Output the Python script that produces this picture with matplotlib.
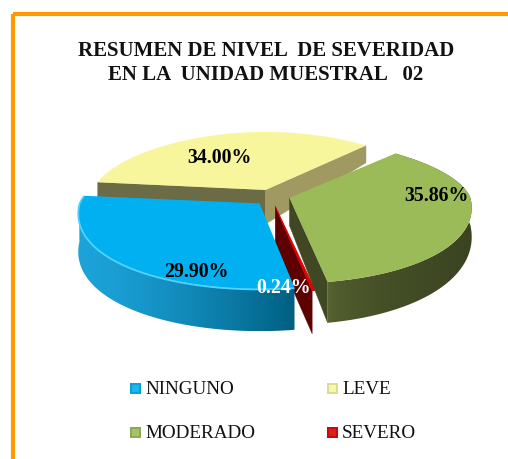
#!/usr/bin/env python3
"""3D-looking exploded pie: nivel de severidad, unidad muestral 02."""

import numpy as np
import matplotlib

matplotlib.use("Agg")
import matplotlib.pyplot as plt
from matplotlib.colors import to_rgb
from matplotlib.patches import Polygon, Rectangle

TITLE_LINES = ["RESUMEN DE NIVEL  DE SEVERIDAD", "EN LA  UNIDAD MUESTRAL   02"]
CATEGORIES = ["NINGUNO", "LEVE", "MODERADO", "SEVERO"]
VALUES = [29.90, 34.00, 35.86, 0.24]

TOP_COLORS = ["#00B0F0", "#F8F69C", "#9BBB59", "#E00000"]
RADII = [180, 172, 181, 190]
# wall depth per slice: (base, growth per pixel of screen y below y=145)
DEPTHS = [(35, 0.05), (17, 0.38), (19, 0.16), (43, 0.0)]
LABEL_POS = [(196, 272), (219, 158), (436, 196), (284, 288)]
LABEL_COLORS = ["black", "black", "black", "white"]

CX, CY = 272, 195
FIRST_ANGLE = 170  # degrees clockwise from 12 o'clock
SERIF = "Liberation Serif"


def blend(a, b, t):
    a, b = np.array(to_rgb(a)), np.array(to_rgb(b))
    return tuple(a + (b - a) * t)


def apex(mid):
    """Exploded tip of a slice, less offset towards the back."""
    c = np.cos(np.radians(mid))
    dx = 18 * np.sin(np.radians(mid))
    dy = -18 * c * (0.3 if c > 0 else 0.65)
    return CX + dx, CY + dy


def rim(theta, radius, tip):
    """Outer edge points, squashed and narrowed towards the back."""
    t = np.radians(theta)
    c = np.cos(t)
    x = tip[0] + radius * (1 - 0.12 * c) * np.sin(t)
    y = tip[1] - np.where(c > 0, 58, 85.5) * c
    return x, y


def depth_at(y, depth):
    return depth[0] + depth[1] * (y - 145)


def wall(ax, xs, ys, depth, left, right, power, z):
    """Outer wall: horizontal gradient clipped to the wall outline."""
    bottom = ys + depth_at(ys, depth)
    outline = Polygon(np.r_[np.c_[xs, ys], np.c_[xs, bottom][::-1]], transform=ax.transData)
    ramp = np.linspace(0, 1, 256) ** power
    colors = np.array([blend(left, right, t) for t in ramp])[None, :, :]
    img = ax.imshow(colors, extent=(xs.min(), xs.max(), bottom.max(), ys.min()),
                    aspect="auto", zorder=z)
    img.set_clip_path(outline)


def cut_face(ax, tip, x, y, depth, color, z):
    quad = [
        tip,
        (x, y),
        (x, y + depth_at(y, depth)),
        (tip[0], tip[1] + depth_at(tip[1], depth)),
    ]
    ax.add_patch(Polygon(quad, facecolor=color, edgecolor=color, lw=0.3, zorder=z))


fig = plt.figure(figsize=(5.08, 4.59), dpi=100)
ax = fig.add_axes([0, 0, 1, 1])
ax.axis("off")

# frame, only top and left fall inside the crop
ax.add_patch(Rectangle((13, 14), 600, 600, fill=False, edgecolor="#FF9900", lw=3, zorder=1))

for i, line in enumerate(TITLE_LINES):
    ax.text(266, 51 + 24.5 * i, line, ha="center", va="center", family=SERIF,
            fontweight="bold", fontsize=15, color="#111111", zorder=20)

# slice angles from the values
starts = FIRST_ANGLE + np.cumsum([0] + VALUES[:-1]) * 3.6
spans = np.array(VALUES) * 3.6
slices = []
for k in range(len(VALUES)):
    theta = np.linspace(starts[k], starts[k] + spans[k], max(int(spans[k]) * 2, 2))
    tip = apex(starts[k] + spans[k] / 2)
    xs, ys = rim(theta, RADII[k], tip)
    slices.append((theta, tip, xs, ys))

# back to front: yellow, red, green, blue
_, tip, xs, ys = slices[1]
cut_face(ax, tip, xs[0], ys[0], DEPTHS[1], "#6B6B45", 3)
cut_face(ax, tip, xs[-1], ys[-1], DEPTHS[1], "#A09A62", 3)
ax.add_patch(Polygon(np.r_[[tip], np.c_[xs, ys]], facecolor=TOP_COLORS[1], edgecolor="none", zorder=4))

_, tip, xs, ys = slices[3]
cut_face(ax, tip, xs[-1], ys[-1], DEPTHS[3], "#5E0000", 5)
ax.add_patch(Polygon(np.r_[[tip], np.c_[xs, ys]], facecolor=TOP_COLORS[3], edgecolor=TOP_COLORS[3], lw=0.6, zorder=6))

theta, tip, xs, ys = slices[2]
front = theta >= 90
wall(ax, xs[front], ys[front], DEPTHS[2], "#5A6733", "#3B4421", 0.45, 7)
cut_face(ax, tip, xs[-1], ys[-1], DEPTHS[2], "#3F4723", 8)
ax.add_patch(Polygon(np.r_[[tip], np.c_[xs, ys]], facecolor=TOP_COLORS[2], edgecolor="none", zorder=9))

theta, tip, xs, ys = slices[0]
front = theta <= 270
wall(ax, xs[front], ys[front], DEPTHS[0], "#1CA3DA", "#005F82", 1.4, 10)
ax.add_patch(Polygon(np.r_[[tip], np.c_[xs, ys]], facecolor=TOP_COLORS[0], edgecolor="none", zorder=11))
ax.plot(xs, ys + 0.5, color="#4FD2FF", lw=1.3, zorder=12, solid_capstyle="butt")

for value, (lx, ly), col in zip(VALUES, LABEL_POS, LABEL_COLORS):
    ax.text(lx, ly, f"{value:.2f}%", ha="center", va="center", family=SERIF,
            fontweight="bold", fontsize=14.3, color=col, zorder=15)

# legend, two columns by two rows
for i, (name, col) in enumerate(zip(CATEGORIES, TOP_COLORS)):
    lx = 130 + 197 * (i % 2)
    ly = 388 + 44.5 * (i // 2)
    ax.add_patch(Rectangle((lx, ly - 5.5), 11, 11, facecolor=blend(col, "#404040", 0.15), edgecolor="none", zorder=5))
    ax.add_patch(Rectangle((lx + 2, ly - 3.5), 7, 7, facecolor=blend(col, "#FFFFFF", 0.1), edgecolor="none", zorder=6))
    ax.text(lx + 15, ly + 1.5, name, ha="left", va="center", family=SERIF, fontsize=13.8,
            color="#111111", zorder=7)

ax.set_xlim(0, 508)
ax.set_ylim(459, 0)
fig.savefig("out.png", dpi=100)
